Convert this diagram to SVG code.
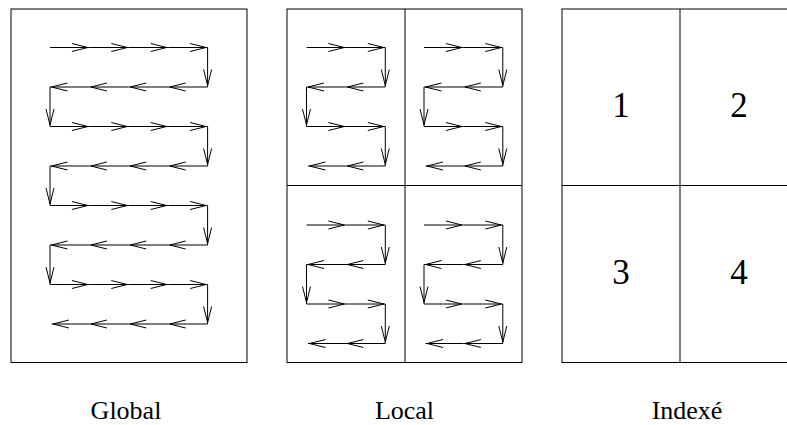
<svg xmlns="http://www.w3.org/2000/svg" width="787" height="425" viewBox="0 0 787 425">
<style>
.box{fill:#fff;stroke:#000;stroke-width:1}
.div{stroke:#000;stroke-width:1;fill:none}
.a{stroke:#000;stroke-width:1;fill:none;marker-mid:url(#ah);marker-end:url(#ah)}
.lbl{font-family:"Liberation Serif","Times New Roman",serif;font-size:26px;fill:#000;text-anchor:middle}
.num{font-family:"Liberation Serif","Times New Roman",serif;font-size:35px;fill:#000;text-anchor:middle}
</style>
<defs>
<marker id="ah" markerUnits="userSpaceOnUse" orient="auto" refX="1.5" refY="0" markerWidth="20" markerHeight="10" overflow="visible">
<path d="M-16,-4 L0,0 L-16,4" fill="none" stroke="#000" stroke-width="1"/>
</marker>
</defs>
<rect width="787" height="425" fill="#fff"/>
<g id="global-panel">
<rect class="box" x="11" y="9" width="236" height="353.5"/>
</g>
<g id="local-panel">
<rect class="box" x="287" y="9" width="235" height="353.5"/>
<line class="div" x1="405" y1="9" x2="405" y2="362.5"/>
<line class="div" x1="287" y1="185.5" x2="522" y2="185.5"/>
</g>
<g id="indexe-panel">
<rect class="box" x="562" y="9" width="236" height="353.5"/>
<line class="div" x1="680" y1="9" x2="680" y2="362.5"/>
<line class="div" x1="562" y1="185.5" x2="798" y2="185.5"/>
<text class="num" x="621" y="117">1</text>
<text class="num" x="739" y="117">2</text>
<text class="num" x="621" y="284">3</text>
<text class="num" x="739" y="284">4</text>
</g>
<g id="connectors">
<!-- Global -->
<path class="a" d="M50,47.5 H89.4 H128.8 H168.2 H207.6"/>
<path class="a" d="M207.6,47.5 V87"/>
<path class="a" d="M207.6,87 H168.2 H128.8 H89.4 H50"/>
<path class="a" d="M50,87 V126.5"/>
<path class="a" d="M50,126.5 H89.4 H128.8 H168.2 H207.6"/>
<path class="a" d="M207.6,126.5 V166"/>
<path class="a" d="M207.6,166 H168.2 H128.8 H89.4 H50"/>
<path class="a" d="M50,166 V205.5"/>
<path class="a" d="M50,205.5 H89.4 H128.8 H168.2 H207.6"/>
<path class="a" d="M207.6,205.5 V245"/>
<path class="a" d="M207.6,245 H168.2 H128.8 H89.4 H50"/>
<path class="a" d="M50,245 V284.5"/>
<path class="a" d="M50,284.5 H89.4 H128.8 H168.2 H207.6"/>
<path class="a" d="M207.6,284.5 V324"/>
<path class="a" d="M207.6,324 H168.2 H128.8 H89.4 H51.5"/>
<!-- Local Q1 -->
<path class="a" d="M306.5,47.5 H345.9 H385.3"/>
<path class="a" d="M385.3,47.5 V87"/>
<path class="a" d="M385.3,87 H345.9 H306.5"/>
<path class="a" d="M306.5,87 V126.5"/>
<path class="a" d="M306.5,126.5 H345.9 H385.3"/>
<path class="a" d="M385.3,126.5 V166"/>
<path class="a" d="M385.3,166 H345.9 H308"/>
<!-- Local Q2 -->
<path class="a" d="M424,47.5 H463.4 H502.8"/>
<path class="a" d="M502.8,47.5 V87"/>
<path class="a" d="M502.8,87 H463.4 H424"/>
<path class="a" d="M424,87 V126.5"/>
<path class="a" d="M424,126.5 H463.4 H502.8"/>
<path class="a" d="M502.8,126.5 V166"/>
<path class="a" d="M502.8,166 H463.4 H425.5"/>
<!-- Local Q3 -->
<path class="a" d="M306.5,225 H345.9 H385.3"/>
<path class="a" d="M385.3,225 V264.5"/>
<path class="a" d="M385.3,264.5 H345.9 H306.5"/>
<path class="a" d="M306.5,264.5 V304"/>
<path class="a" d="M306.5,304 H345.9 H385.3"/>
<path class="a" d="M385.3,304 V343.5"/>
<path class="a" d="M385.3,343.5 H345.9 H308"/>
<!-- Local Q4 -->
<path class="a" d="M424,225 H463.4 H502.8"/>
<path class="a" d="M502.8,225 V264.5"/>
<path class="a" d="M502.8,264.5 H463.4 H424"/>
<path class="a" d="M424,264.5 V304"/>
<path class="a" d="M424,304 H463.4 H502.8"/>
<path class="a" d="M502.8,304 V343.5"/>
<path class="a" d="M502.8,343.5 H463.4 H425.5"/>
</g>
<g id="labels">
<text class="lbl" x="126" y="419">Global</text>
<text class="lbl" x="404.5" y="419">Local</text>
<text class="lbl" x="687" y="419">Indexé</text>
</g>
</svg>
